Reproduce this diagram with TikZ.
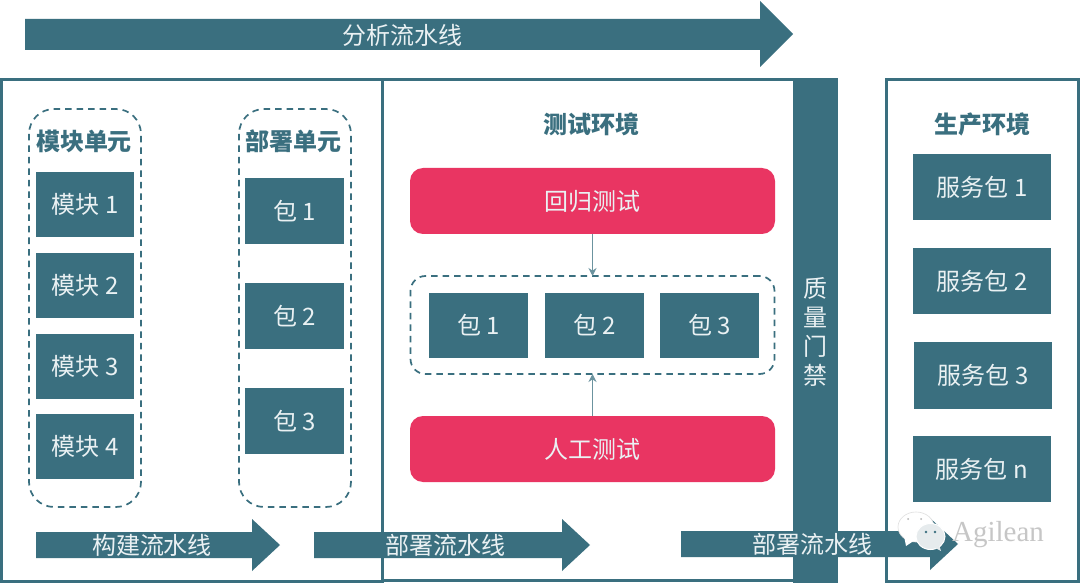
\documentclass[tikz,border=0pt]{standalone}
\usepackage{fontspec}
\setmainfont{Noto Sans CJK SC}
\newfontfamily\wmfont{Liberation Serif}
\usetikzlibrary{arrows.meta}
\definecolor{teal}{HTML}{3A6F7F}
\definecolor{rosered}{HTML}{E93562}
\definecolor{pale}{HTML}{EAF1F3}
\definecolor{wm}{HTML}{E6EBED}
\tikzset{
  x=1pt,y=-1pt,
  frame/.style={draw=teal,line width=3pt,fill=white},
  dashbox/.style={draw=teal,line width=1.7pt,dash pattern=on 6.5pt off 5pt,rounded corners=#1},
  tealbox/.style={fill=teal,text=pale,inner sep=0pt,outer sep=0pt,font=\fontsize{24}{24}\selectfont},
  redbox/.style={fill=rosered,text=pale,inner sep=0pt,outer sep=0pt,rounded corners=13pt,font=\fontsize{24}{24}\selectfont},
  title/.style={text=teal,font=\fontsize{24}{24}\selectfont\bfseries,inner sep=0pt},
  arrowlabel/.style={text=pale,font=\fontsize{24}{24}\selectfont,inner sep=0pt},
  bandarrow/.style={fill=teal,draw=none},
  link/.style={draw=teal!75,line width=1.3pt,-{Stealth[length=8pt,width=8pt]}},
}
\newcommand{\boxat}[7][tealbox]{% style,name,x0,y0,x1,y1,text
  \node[#1,minimum width=#5pt-#3pt,minimum height=#6pt-#4pt,anchor=north west] (#2) at (#3,#4) {\raisebox{-1.6pt}{#7}};}
\newcommand{\band}[7]{% x0 x1(body end) tip ytop ybot headtop headbot
  \path[bandarrow] (#1,#4) -- (#2,#4) -- (#2,#6) -- (#3,{(#6+#7)/2}) -- (#2,#7) -- (#2,#5) -- (#1,#5) -- cycle;}
\begin{document}
\begin{tikzpicture}
\useasboundingbox (0,0) rectangle (1080,583);
\fill[white] (0,0) rectangle (1080,583);
% top arrow
\band{25}{760}{793}{19}{50}{1}{67}
\node[arrowlabel] (topl) at (402,35.5) {分析流水线};
% frames
\draw[frame] (1.5,80) rectangle (382.5,581);
\draw[frame] (382.5,79.5) rectangle (800,580);
\draw[frame] (886.5,79.5) rectangle (1078,581);
\fill[teal] (793,78) rectangle (838,583);
% left dashed groups
\draw[dashbox=25pt] (29,109) rectangle (141,507);
\draw[dashbox=25pt] (239,109) rectangle (351,507);
\node[title] (t1) at (84,141.5) {模块单元};
\node[title] (t2) at (293,141.5) {部署单元};
\boxat{m1}{36}{172}{134}{237}{模块 1}
\boxat{m2}{36}{253}{134}{318}{模块 2}
\boxat{m3}{36}{334}{134}{399}{模块 3}
\boxat{m4}{36}{414}{134}{479}{模块 4}
\boxat{p1}{245}{178}{344}{244}{包 1}
\boxat{p2}{245}{283}{344}{349}{包 2}
\boxat{p3}{245}{388}{344}{454}{包 3}
% test env
\node[title] (t3) at (591,124.5) {测试环境};
\boxat[redbox]{reg}{410}{168}{775}{234}{回归测试}
\boxat[redbox]{man}{410}{416}{775}{482}{人工测试}
\node[dashbox=15pt,draw,minimum width=364pt,minimum height=98pt,inner sep=0pt,outer sep=0pt,anchor=north west] (grp) at (410.5,276) {};
\boxat{q1}{429}{293}{528}{358}{包 1}
\boxat{q2}{545}{293}{644}{358}{包 2}
\boxat{q3}{660}{293}{759}{358}{包 3}
\draw[link] (reg.south -| grp.north) -- (grp.north);
\draw[link] (man.north -| grp.south) -- (grp.south);
% gate
\node[text=pale,font=\fontsize{24}{29}\selectfont,align=center,inner sep=0pt] (gate) at (815,331.5) {质\\量\\门\\禁};
% prod
\node[title] (t4) at (982,124.5) {生产环境};
\boxat{s1}{913}{154}{1051}{220}{服务包 1}
\boxat{s2}{913}{248}{1051}{314}{服务包 2}
\boxat{s3}{914}{342}{1052}{409}{服务包 3}
\boxat{s4}{913}{436}{1051}{502}{服务包 n}
% bottom arrows
\band{36}{252}{280}{532}{558}{519}{571}
\node[arrowlabel] (a1) at (152,545.5) {构建流水线};
\band{314}{562}{590}{532}{558}{519}{571}
\node[arrowlabel] (a2) at (445,545.5) {部署流水线};
\band{681}{930}{958}{531}{557}{518}{570}
\node[arrowlabel] (a3) at (812,544.5) {部署流水线};
% watermark
\fill[white,draw=gray!25,line width=0.6pt] (916,527) ellipse (18 and 15);
\path[fill=white] (904,536) -- (906,546) -- (915,540) -- cycle;
\fill[wm,draw=white,line width=1pt] (930.5,536.5) ellipse (14.5 and 13);
\path[fill=wm] (935,548) -- (941,551) -- (939,545) -- cycle;
\fill[teal] (926,532) circle (1.3) (935,532) circle (1.3);
\fill[gray!60] (908,519) circle (1) (921,519) circle (1);
\node[text=gray!45,font=\wmfont\fontsize{29}{29}\selectfont,inner sep=0pt] (wmt) at (998,535) {Agilean};
\end{tikzpicture}
\end{document}
